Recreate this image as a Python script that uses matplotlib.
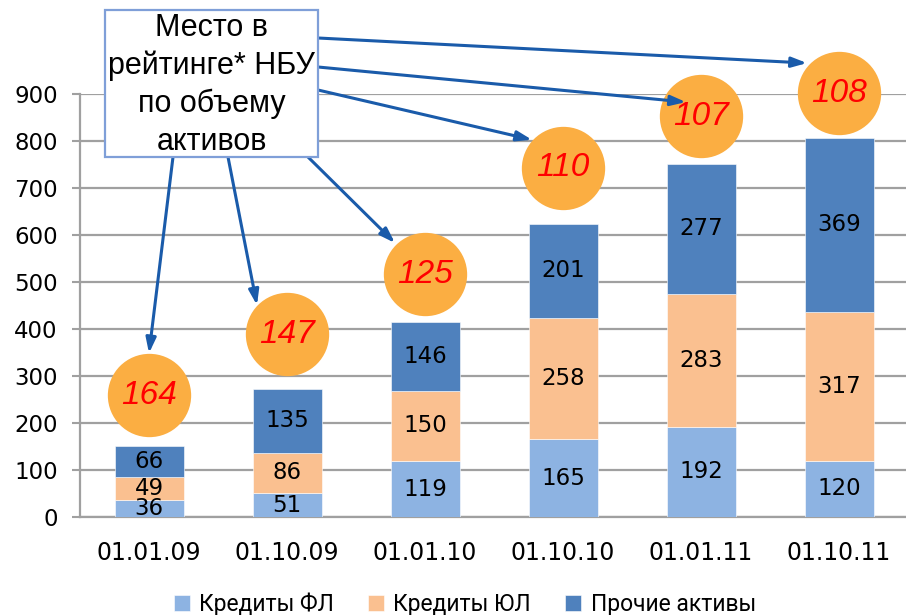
import numpy as np
import matplotlib
matplotlib.use('Agg')
import matplotlib.pyplot as plt
from matplotlib.patches import Rectangle
from matplotlib.transforms import offset_copy

plt.rcParams['font.family'] = ['DejaVu Sans']

# data
dates = ['01.01.09', '01.10.09', '01.01.10', '01.10.10', '01.01.11', '01.10.11']
kred_fl = [36, 51, 119, 165, 192, 120]
kred_yl = [49, 86, 150, 258, 283, 317]
other = [66, 135, 146, 201, 277, 369]
rank = [164, 147, 125, 110, 107, 108]
rank_y = [259, 389, 517, 743, 853, 902]  # where the circles sit (value scale)

series_names = ['Кредиты ФЛ', 'Кредиты ЮЛ', 'Прочие активы']
colors = ['#8DB3E2', '#FAC090', '#4F81BD']

W, H = 906, 615
fig = plt.figure(figsize=(W / 100, H / 100), dpi=100)
ax = fig.add_axes([80 / W, 1 - 517 / H, 828 / W, (517 - 94) / H])

x = np.arange(len(dates))
bottom = np.zeros(len(dates))
bars = []
for vals, c, name in zip([kred_fl, kred_yl, other], colors, series_names):
    b = ax.bar(x, vals, 0.5, bottom=bottom, color=c, label=name, zorder=3,
               edgecolor='white', linewidth=0.4)
    ax.bar_label(b, labels=[str(v) for v in vals], label_type='center',
                 fontsize=16.5, color='black', zorder=4)
    bars.append(b)
    bottom += np.array(vals)

ax.set_xlim(-0.5, 5.5)
ax.set_ylim(0, 900)
ax.set_yticks(range(0, 901, 100))
ax.set_xticks(x)
ax.set_xticklabels(dates)
ax.tick_params(axis='y', labelsize=16.5, length=6, width=1.5, color='#a0a0a0', pad=10)
ax.tick_params(axis='x', labelsize=17, length=0, pad=17)
ax.grid(axis='y', color='#a0a0a0', linewidth=1.6, zorder=0)
ax.set_axisbelow(True)
for s in ['top', 'right']:
    ax.spines[s].set_visible(False)
for s in ['left', 'bottom']:
    ax.spines[s].set_color('#a0a0a0')
    ax.spines[s].set_linewidth(1.6)

# rank circles
ax.scatter(x, rank_y, s=3600, color='#FBAE42', zorder=5, clip_on=False, linewidths=0)
for xi, yi, r in zip(x, rank_y, rank):
    ax.text(xi, yi, str(r), ha='center', va='center', fontsize=24, style='italic',
            color='#FF0000', family='Liberation Sans', zorder=6, clip_on=False)

# callout box and arrows (figure pixels, y measured from the top)
box_x0, box_y0, box_x1, box_y1 = 105, 10, 318, 157
arrow_start = [(173, 157), (228, 157), (308, 157), (318, 90), (318, 67), (318, 38)]
# where the arrow tip lands relative to the circle centre, pixels
tip_offset = [(0, 42), (-30, 29), (-30, 31), (-31, 28), (-15, 14), (-32, 30)]
for i, (sx, sy) in enumerate(arrow_start):
    dx, dy = tip_offset[i]
    tr = offset_copy(ax.transData, fig=fig, x=dx, y=dy, units='dots')
    ax.annotate('', xy=(x[i], rank_y[i]), xycoords=tr,
                xytext=(sx, H - sy), textcoords='figure pixels',
                arrowprops=dict(arrowstyle='-|>,head_length=0.9,head_width=0.3',
                                color='#1A5BAA', lw=2.2, shrinkA=0, shrinkB=0),
                zorder=7, annotation_clip=False)

fig.patches.append(Rectangle((box_x0 / W, 1 - box_y1 / H), (box_x1 - box_x0) / W,
                             (box_y1 - box_y0) / H, transform=fig.transFigure,
                             facecolor='white', edgecolor='#7F9FD8', linewidth=1.6,
                             zorder=8))
fig.text((box_x0 + box_x1) / 2 / W, 1 - 85 / H, 'Место в\nрейтинге* НБУ\nпо объему\nактивов',
         ha='center', va='center', fontsize=22, family='Liberation Sans',
         linespacing=1.32, zorder=9)

fig.legend(handles=bars, labels=series_names, loc='lower center',
           bbox_to_anchor=(0.513, -0.035), ncol=3, frameon=False,
           handlelength=0.7, handleheight=0.7, handletextpad=0.4, columnspacing=1.5,
           prop={'family': ['Roboto', 'DejaVu Sans'], 'size': 16.5})

fig.savefig('out.png', dpi=100)
